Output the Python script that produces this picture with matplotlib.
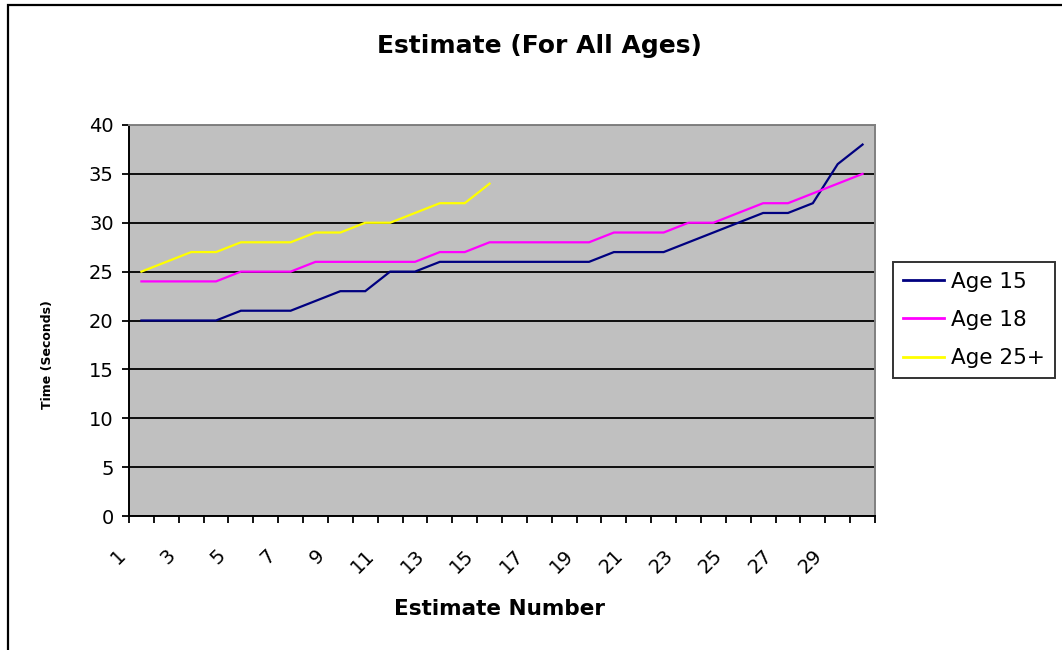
import matplotlib
matplotlib.use("Agg")
import matplotlib.pyplot as plt
import matplotlib.transforms as mtransforms
from matplotlib.patches import Rectangle

# Estimate data: 30 estimates per age group (Age 25+ has 15)
estimate_numbers = list(range(1, 31))
age15 = [20, 20, 20, 20, 21, 21, 21, 22, 23, 23, 25, 25, 26, 26, 26,
         26, 26, 26, 26, 27, 27, 27, 28, 29, 30, 31, 31, 32, 36, 38]
age18 = [24, 24, 24, 24, 25, 25, 25, 26, 26, 26, 26, 26, 27, 27, 28,
         28, 28, 28, 28, 29, 29, 29, 30, 30, 31, 32, 32, 33, 34, 35]
age25 = [25, 26, 27, 27, 28, 28, 28, 29, 29, 30, 30, 31, 32, 32, 34]
series_names = ["Age 15", "Age 18", "Age 25+"]
series_colors = ["#000080", "#FF00FF", "#FFFF00"]
xtick_labels = [str(n) for n in estimate_numbers if n % 2 == 1]
yticks = list(range(0, 45, 5))

W, H = 1062, 650
fig = plt.figure(figsize=(W / 100, H / 100), dpi=100)
fig.patch.set_facecolor("white")

# Chart-area border
fig.patches.append(Rectangle((8 / W, -0.1), 1.2, 1 - 5 / H + 0.1,
                             transform=fig.transFigure, fill=False,
                             edgecolor="black", linewidth=1.6, zorder=0))

ax = fig.add_axes([129 / W, 1 - 516 / H, (875 - 129) / W, (516 - 125) / H])
ax.set_facecolor("#C0C0C0")

x_centers = [i - 0.5 for i in estimate_numbers]
for vals, name, col in zip([age15, age18, age25], series_names, series_colors):
    ax.plot(x_centers[:len(vals)], vals, color=col, lw=1.6, label=name,
            solid_joinstyle="miter", zorder=3)

ax.set_xlim(0, len(estimate_numbers))
ax.set_ylim(0, 40)
ax.set_yticks(yticks)
ax.set_yticklabels([str(v) for v in yticks], fontsize=14)
ax.set_xticks(range(0, len(estimate_numbers) + 1))
ax.set_xticklabels([])
ax.tick_params(axis="both", direction="out", length=5, width=1.3, color="black")
ax.tick_params(axis="y", pad=6)
ax.grid(axis="y", color="black", lw=1.3, zorder=1)
ax.set_axisbelow(True)

for side in ["left", "bottom"]:
    ax.spines[side].set_color("black")
    ax.spines[side].set_linewidth(1.4)
for side in ["top", "right"]:
    ax.spines[side].set_color("#808080")
    ax.spines[side].set_linewidth(1.4)

# Rotated category labels
offset = mtransforms.ScaledTranslation(-12 / 100, -30 / 100, fig.dpi_scale_trans)
trans = mtransforms.blended_transform_factory(ax.transData, ax.transAxes) + offset
for lab in xtick_labels:
    n = int(lab)
    ax.text(n - 0.5, 0, lab, rotation=45, ha="right", va="top",
            fontsize=14, transform=trans)

fig.text(539 / W, 1 - 46 / H, "Estimate (For All Ages)", ha="center",
         va="center", fontsize=18, fontweight="bold")
fig.text(500 / W, 1 - 609 / H, "Estimate Number", ha="center",
         va="center", fontsize=15.5, fontweight="bold")
fig.text(48 / W, 1 - 355 / H, "Time (Seconds)", ha="center", va="center",
         rotation=90, fontsize=9, fontweight="bold")

leg = ax.legend(loc="upper left", bbox_to_anchor=(893 / W, 1 - 262 / H),
                bbox_transform=fig.transFigure, fontsize=15.5, frameon=True,
                fancybox=False, shadow=False, handlelength=1.9,
                handletextpad=0.35, labelspacing=0.85, borderpad=0.45,
                borderaxespad=0)
leg.get_frame().set_edgecolor("black")
leg.get_frame().set_linewidth(1.4)
for line in leg.get_lines():
    line.set_linewidth(2.0)

fig.savefig("out.png", dpi=100)
